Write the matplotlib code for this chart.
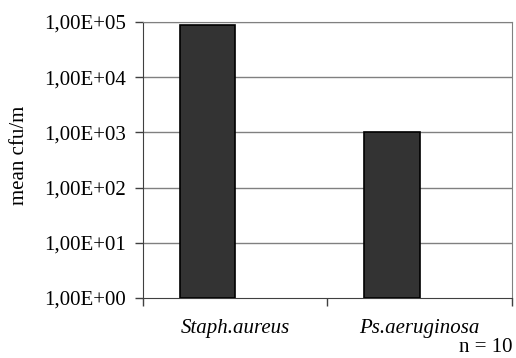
import numpy as np
import matplotlib.pyplot as plt
import matplotlib as mpl
from matplotlib.ticker import FixedLocator, NullLocator

mpl.rcParams['font.family'] = 'Liberation Serif'
mpl.rcParams['font.size'] = 15

# data
organisms = ['Staph.aureus', 'Ps.aeruginosa']
mean_cfu = [88000, 1000]
decades = [1e0, 1e1, 1e2, 1e3, 1e4, 1e5]
decade_labels = ['1,00E+00', '1,00E+01', '1,00E+02', '1,00E+03', '1,00E+04', '1,00E+05']

fig = plt.figure(figsize=(5.16, 3.58), dpi=100)
ax = fig.add_axes([0.277, 0.1676, 0.715, 0.771])

x = np.arange(len(organisms))
ax.set_yscale('log')
ax.set_ylim(1, 1e5)
ax.set_xlim(-0.5, len(organisms) - 0.5)

for y in decades[1:]:
    ax.axhline(y, color='#808080', lw=1.0, zorder=1)

ax.bar(x - 0.15, mean_cfu, width=0.3, bottom=1, color='#333333',
       edgecolor='black', linewidth=1.2, zorder=3)

ax.yaxis.set_major_locator(FixedLocator(decades))
ax.yaxis.set_minor_locator(NullLocator())
ax.set_yticklabels(decade_labels)
ax.tick_params(axis='y', direction='out', length=6, width=1, color='#404040', pad=6)

# category boundary ticks, labels centred in categories
ax.set_xticks([-0.5, 0.5, 1.5])
ax.set_xticklabels([])
ax.set_xticks(x, minor=True)
ax.set_xticklabels(organisms, minor=True, style='italic')
ax.tick_params(axis='x', which='major', direction='out', length=6, width=1, color='#404040')
ax.tick_params(axis='x', which='minor', length=0, pad=15)

for side in ['top', 'right']:
    ax.spines[side].set_color('#808080')
for side in ['left', 'bottom']:
    ax.spines[side].set_color('#404040')

fig.text(0.037, 0.567, 'mean cfu/m', rotation=90, ha='center', va='center')
fig.text(0.994, 0.003, 'n = 10', ha='right', va='bottom')

fig.savefig('out.png')
